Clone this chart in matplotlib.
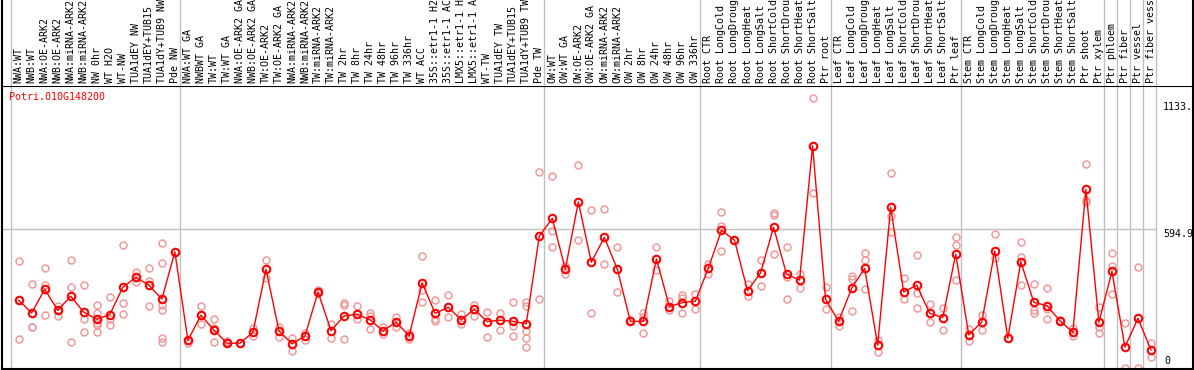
import matplotlib
matplotlib.use('Agg')
import matplotlib.pyplot as plt
import matplotlib.transforms as mtransforms
import numpy as np

# sample names (as printed, truncated ones kept)
labels = ['NWA:WT', 'NWB:WT', 'NWA:OE-ARK2', 'NWB:OE-ARK2', 'NWA:miRNA-ARK2', 'NWB:miRNA-ARK2',
          'NW 0hr', 'WT H2O', 'WT-NW', 'TUA1dEY NW', 'TUA1dEY+TUB15', 'TUA1dY+TUB9 NW', 'Pde NW',
          'NWA:WT GA', 'NWBWT GA', 'TW:WT', 'TW:WT GA', 'NWA:OE-ARK2 GA', 'NWB:OE-ARK2 GA',
          'TW:OE-ARK2', 'TW:OE-ARK2 GA', 'NWA:miRNA-ARK2', 'NWB:miRNA-ARK2', 'TW:miRNA-ARK2',
          'TW:miRNA-ARK2', 'TW 2hr', 'TW 8hr', 'TW 24hr', 'TW 48hr', 'TW 96hr', 'TW 336hr', 'WT ACC',
          '35S::etr1-1 H2', '35S::etr1-1 AC', 'LMX5::etr1-1 H', 'LMX5::etr1-1 A', 'WT-TW',
          'TUA1dEY TW', 'TUA1dEY+TUB15', 'TUA1dY+TUB9 TW', 'Pde TW',
          'OW:WT', 'OW:WT GA', 'OW:OE-ARK2', 'OW:OE-ARK2 GA', 'OW:miRNA-ARK2', 'OW:miRNA-ARK2',
          'OW 2hr', 'OW 8hr', 'OW 24hr', 'OW 48hr', 'OW 96hr', 'OW 336hr',
          'Root CTR', 'Root LongCold', 'Root LongDroug', 'Root LongHeat', 'Root LongSalt',
          'Root ShortCold', 'Root ShortDrou', 'Root ShortHeat', 'Root ShortSalt', 'Ptr root',
          'Leaf CTR', 'Leaf LongCold', 'Leaf LongDroug', 'Leaf LongHeat', 'Leaf LongSalt',
          'Leaf ShortCold', 'Leaf ShortDrou', 'Leaf ShortHeat', 'Leaf ShortSalt', 'Ptr leaf',
          'Stem CTR', 'Stem LongCold', 'Stem LongDroug', 'Stem LongHeat', 'Stem LongSalt',
          'Stem ShortCold', 'Stem ShortDrou', 'Stem ShortHeat', 'Stem ShortSalt', 'Ptr shoot',
          'Ptr xylem', 'Ptr phloem', 'Ptr fiber', 'Ptr vessel', 'Ptr fiber vessel']

# number of samples in each experiment block
group_sizes = [13, 28, 12, 10, 10, 11, 1, 1, 1, 1]

# mean expression per sample
means = [290, 236, 337, 247, 307, 239, 209, 229, 345, 388, 354, 295, 496,
         119, 226, 163, 107, 107, 153, 422, 159, 104, 138, 325, 160, 223, 230, 206, 159, 197,
         138, 364, 234, 260, 206, 251, 199, 205, 200, 190, 563,
         639, 422, 709, 452, 558, 422, 200, 200, 466, 263, 280, 286,
         428, 588, 546, 331, 406, 601, 401, 376, 948, 294,
         200, 341, 426, 99, 686, 325, 354, 234, 216, 486,
         142, 197, 500, 128, 454, 281, 267, 203, 153, 763, 196,
         413, 90, 213, 78]

# replicate values per sample
reps = [[456, 290, 124], [358, 176, 174], [426, 355, 226], [266, 247, 224], [460, 347, 113],
        [354, 209, 156], [269, 234, 192, 185, 153], [303, 209, 183], [524, 280, 233], [410, 367],
        [426, 371, 266], [533, 449, 269, 250, 128, 113], [496],
        [119, 109], [266, 188], [209, 170, 111], [116, 110], [109], [170, 139], [462, 384],
        [177, 135], [128, 75], [152, 121], [334, 320], [189, 128], [280, 268, 125], [266, 210],
        [237, 223, 166], [175, 146], [217, 175], [152, 124], [479, 334, 284], [290, 210, 202],
        [312, 217], [231, 189], [270, 223], [239, 132], [234, 163], [281, 182, 138],
        [284, 266, 160, 128, 92], [835, 295],
        [818, 587, 516], [436, 402], [867, 547], [673, 234], [678, 443], [516, 324], [205],
        [237, 220, 149], [516, 419], [287, 249], [312, 298, 234], [315, 251],
        [445, 402], [665, 607, 500], [546], [359, 310], [462, 351], [661, 653, 486],
        [516, 391, 294], [402, 341], [1151, 746], [345, 251],
        [220, 180], [395, 379, 246], [490, 462, 337], [121, 68], [831, 649, 582], [384, 294],
        [482, 322, 256], [273, 199], [258, 163], [558, 526, 376],
        [166, 116], [227, 162], [571, 469], [128], [537, 473, 354], [358, 249, 234],
        [341, 253, 209], [205], [170, 139], [870, 717, 710], [263, 177, 152],
        [490, 436, 315], [192, 0], [430, 0], [109, 47]]

gene = 'Potri.010G148200'
y_max = 1189.8

plt.rcParams['font.family'] = 'DejaVu Sans Mono'
plt.rcParams['font.size'] = 7.2

W, H = 1194, 370
fig = plt.figure(figsize=(W / 100, H / 100), dpi=100)

x = np.arange(len(means))
bounds = np.concatenate([[0], np.cumsum(group_sizes)]) - 0.615
x_left, x_right = -1.283, 90.23

# plot area
ax = fig.add_axes([2 / W, 1.5 / H, 1191 / W, 283 / H])
ax.set_xlim(x_left, x_right)
ax.set_ylim(-1, 1205)
for b in bounds:
    ax.axvline(b, color='#c0c0c0', lw=1, zorder=1)
ax.hlines(y_max / 2, x_left, bounds[-1], color='#c0c0c0', lw=1, zorder=1)

rx = [i for i, r in enumerate(reps) for _ in r]
ry = [v for r in reps for v in r]
ax.plot(rx, ry, 'o', ms=5, mfc='none', mec='#f09a9a', mew=1.1, zorder=2, clip_on=True)
ax.plot(x, means, '-', color='#ff0000', lw=1, zorder=3)
ax.plot(x, means, 'o', ms=5.4, mfc='none', mec='#ff0000', mew=1.5, zorder=4)

for s in ['top', 'bottom', 'left', 'right']:
    ax.spines[s].set_linewidth(1.5)
ax.set_xticks([])
ax.set_yticks([])

ax.text(0.006, 0.960, gene, color='#ff0000', transform=ax.transAxes, va='center', ha='left')
ax.text(0.975, 1133, '1133.', transform=mtransforms.blended_transform_factory(ax.transAxes, ax.transData),
        va='top', ha='left')
ax.text(0.975, y_max / 2, '594.9', transform=mtransforms.blended_transform_factory(ax.transAxes, ax.transData),
        va='top', ha='left')
ax.text(0.976, 10, '0', transform=mtransforms.blended_transform_factory(ax.transAxes, ax.transData),
        va='bottom', ha='left')

# sample label strip
lx = fig.add_axes([2 / W, (H - 85.5) / H, 1191 / W, 85.5 / H])
lx.set_xlim(x_left, x_right)
lx.set_ylim(0, 1)
for b in bounds:
    lx.axvline(b, color='#c0c0c0', lw=1)
lx.spines['top'].set_visible(False)
lx.spines['bottom'].set_visible(False)
lx.spines['left'].set_linewidth(1.5)
lx.spines['right'].set_linewidth(1.5)
lx.set_xticks([])
lx.set_yticks([])
for i, lab in enumerate(labels):
    lx.text(i, 0.029, lab, rotation=90, ha='center', va='bottom', clip_on=False)

fig.savefig('out.png', dpi=100)
